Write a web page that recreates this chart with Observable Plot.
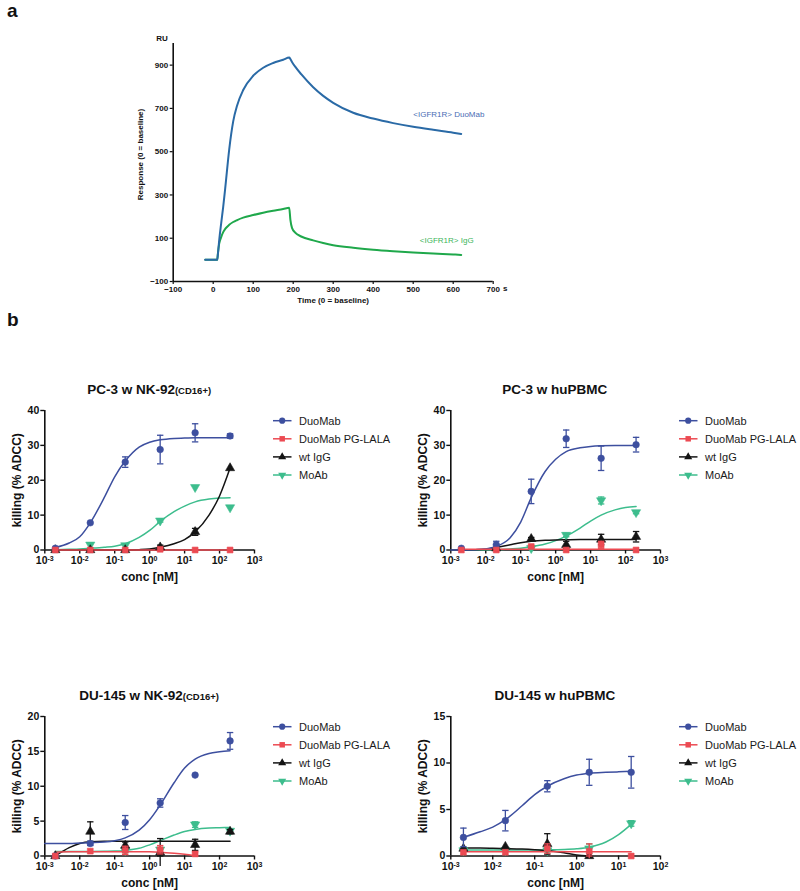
<!DOCTYPE html>
<html>
<head>
<meta charset="utf-8">
<script src="https://cdn.jsdelivr.net/npm/d3@7"></script>
<script src="https://cdn.jsdelivr.net/npm/@observablehq/plot@0.6"></script>
<style>
  body { margin: 0; background: #fff; }
  #root { position: relative; width: 800px; height: 891px; overflow: hidden; font-family: "Liberation Sans", Arial, Helvetica, sans-serif; color: #111; }
</style>
</head>
<body>
<div id="root"></div>
<script>
// ---------------- DATA ----------------
// Panel a: SPR sensorgram
const sprTime = [-20, 0, 10, 12, 15, 20, 25, 30, 40, 50, 60, 75, 100, 125, 150, 175, 190, 193, 197, 205, 220, 250, 275, 300, 350, 400, 450, 500, 550, 600, 620];
const sprDuoMab = [0, 0, 0, 30, 90, 170, 245, 330, 510, 640, 715, 785, 851, 888, 910, 925, 935, 928, 915, 893, 858, 798, 758, 726, 680, 653, 632, 615, 601, 588, 582];
const sprIgG = [0, 0, 0, 35, 75, 105, 128, 143, 162, 175, 184, 195, 207, 218, 227, 235, 241, 185, 148, 126, 108, 90, 78, 68, 56, 47, 40, 34, 29, 25, 23];
const sprXTicks = [-100, 0, 100, 200, 300, 400, 500, 600, 700];
const sprYTicks = [-100, 100, 300, 500, 700, 900];
const sprLabels = ["<IGFR1R> DuoMab", "<IGFR1R> IgG"];
const sprLabelX = [678, 651];
const sprLabelY = [671, 89];

// Panel b: ADCC
const seriesNames = ["DuoMab", "DuoMab PG-LALA", "wt IgG", "MoAb"];
const conc6 = [0.002, 0.02, 0.2, 2, 20, 200];
const conc5 = [0.002, 0.02, 0.2, 2, 20];
const fitConc = [0.001, 0.002, 0.005, 0.01, 0.02, 0.05, 0.1, 0.2, 0.5, 1, 2, 5, 10, 20, 50, 100, 200];
const decades6 = [1e-3, 1e-2, 1e-1, 1e0, 1e1, 1e2, 1e3];
const decades5 = [1e-3, 1e-2, 1e-1, 1e0, 1e1, 1e2];
const yTicks40 = [0, 10, 20, 30, 40];
const yTicks20 = [0, 5, 10, 15, 20];
const yTicks15 = [0, 5, 10, 15];
const titles = ["PC-3 w NK-92", "PC-3 w huPBMC", "DU-145 w NK-92", "DU-145 w huPBMC"];
const subtitles = ["(CD16+)", "", "(CD16+)", ""];

// PC-3 w NK-92(CD16+)
const p1Duo = [0.5, 7.8, 25.2, 28.8, 33.6, 32.7], p1DuoErr = [0, 0, 1.5, 4.1, 2.6, 0.6];
const p1Lala = [0, 0, 0, 0.2, 0, 0], p1LalaErr = [0, 0, 0, 0, 0, 0];
const p1Wt = [0, 0, 0, 0.8, 5.2, 23.5], p1WtErr = [0, 0, 0, 0.6, 1.0, 0];
const p1Mo = [null, 1.5, 1.3, 8.4, 18, 12.2], p1MoErr = [0, 0, 0, 0.4, 0, 0];
const p1FitDuo = [null, 0.7, 2, 3.8, 7.8, 15, 21, 25.5, 29.5, 30.9, 31.6, 32, 32.1, 32.2, 32.2, 32.2, 32.2];
const p1FitLala = [null, 0, 0, 0, 0, 0, 0, 0, 0, 0, 0, 0, 0, 0, 0, 0, 0];
const p1FitWt = [null, 0, 0, 0, 0, 0, 0, 0, 0.1, 0.3, 0.8, 1.8, 3, 5.2, 10, 15.5, 23.5];
const p1FitMo = [null, 0.1, 0.2, 0.3, 0.5, 0.8, 1.1, 1.8, 3.6, 5.6, 8.2, 11, 12.6, 13.8, 14.6, 14.9, 15];

// PC-3 w huPBMC
const p2Duo = [0.5, 1.5, 16.8, 31.9, 26.3, 30.2], p2DuoErr = [0, 1.0, 3.5, 2.5, 3.5, 2.1];
const p2Lala = [0, 0, 1.0, 0, 1.5, 0], p2LalaErr = [0, 0, 0.3, 0, 1.0, 0];
const p2Wt = [null, 0.5, 3.2, 1.5, 3.0, 3.8], p2WtErr = [0, 0, 0.4, 1.0, 1.5, 1.5];
const p2Mo = [null, null, 0.5, 4.3, 14.2, 10.8], p2MoErr = [0, 0, 0, 0.5, 1.0, 0.4];
const p2FitDuo = [0, 0, 0.1, 0.3, 1.0, 3.5, 8, 15, 22.5, 26, 28.2, 29.3, 29.7, 29.9, 30, 30, 30];
const p2FitLala = [null, 0.2, 0.2, 0.2, 0.2, 0.2, 0.2, 0.2, 0.2, 0.2, 0.2, 0.2, 0.2, 0.2, 0.2, 0.2, 0.2];
const p2FitWt = [null, 0, 0.05, 0.2, 0.7, 1.5, 2.1, 2.5, 2.8, 2.9, 2.95, 3, 3, 3, 3, 3, 3];
const p2FitMo = [null, 0, 0, 0.05, 0.1, 0.3, 0.5, 0.9, 1.7, 2.7, 4, 6.3, 8.3, 10, 11.5, 12.2, 12.5];

// DU-145 w NK-92(CD16+)
const p3Duo = [0, 1.8, 4.8, 7.6, 11.6, 16.5], p3DuoErr = [0, 0.3, 1.0, 0.6, 0, 1.2];
const p3Lala = [0, 0.7, 0.8, 0.9, 0.3, null], p3LalaErr = [0, 0, 0.6, 0.6, 0.3, 0];
const p3Wt = [0, 3.5, 1.5, 0.5, 1.6, 3.5], p3WtErr = [0, 1.4, 0.5, 2.0, 0.8, 0.3];
const p3Mo = [null, null, 0.8, 0.9, 4.5, 3.6], p3MoErr = [0, 0, 0.3, 0, 0.4, 0];
const p3FitDuo = [1.8, 1.8, 1.8, 1.85, 1.9, 2.0, 2.2, 2.6, 3.7, 5.2, 7.3, 10.5, 12.6, 13.9, 14.7, 14.95, 15.1];
const p3FitLala = [null, 0.55, 0.6, 0.6, 0.6, 0.6, 0.6, 0.6, 0.6, 0.6, 0.55, 0.4, 0.25, 0.05, null, null, null];
const p3FitWt = [null, 0, 1.2, 1.8, 2.05, 2.1, 2.1, 2.1, 2.1, 2.1, 2.1, 2.1, 2.1, 2.1, 2.1, 2.1, 2.1];
const p3FitMo = [null, 0.65, 0.65, 0.65, 0.66, 0.68, 0.7, 0.8, 1.1, 1.6, 2.2, 3, 3.5, 3.8, 4, 4.05, 4.1];

// DU-145 w huPBMC
const p4Duo = [2.0, 3.8, 7.5, 9.0, 9.0], p4DuoErr = [1.0, 1.1, 0.6, 1.4, 1.7];
const p4Lala = [0.4, 0.4, 0.8, 0.5, 0], p4LalaErr = [0, 0, 0.5, 0.8, 0];
const p4Wt = [0.8, 1.0, 1.3, 0, null], p4WtErr = [0, 0, 1.1, 0, 0];
const p4Mo = [0.6, 0.6, 0.6, 0.8, 3.5], p4MoErr = [0, 0, 0, 0.5, 0.3];
const p4FitDuo = [null, 2.0, 2.6, 3.1, 3.9, 5.4, 6.6, 7.5, 8.3, 8.7, 8.9, 9.0, 9.05, 9.1, null, null, null];
const p4FitLala = [null, 0.45, 0.45, 0.45, 0.45, 0.45, 0.45, 0.45, 0.45, 0.45, 0.45, 0.45, 0.45, 0.45, null, null, null];
const p4FitWt = [null, 0.85, 0.85, 0.83, 0.8, 0.75, 0.68, 0.58, 0.35, 0.12, 0, null, null, null, null, null, null];
const p4FitMo = [null, 0.65, 0.65, 0.65, 0.65, 0.65, 0.65, 0.66, 0.7, 0.78, 0.95, 1.5, 2.3, 3.4, null, null, null];

// ---------------- STYLE ----------------
const FONT = '"Liberation Sans", Arial, Helvetica, sans-serif';
const COL = { duo: "#3d4f9f", lala: "#ec4a52", wt: "#141414", mo: "#3dbd8d" };
const SYM = {
  duo: { plot: "circle", d3: d3.symbolCircle, rot: 0, r: 3.3, size: 30 },
  lala: { plot: "square", d3: d3.symbolSquare, rot: 0, r: 3.3, size: 30 },
  wt: { plot: "triangle", d3: d3.symbolTriangle, rot: 0, r: 3.4, size: 28 },
  mo: { plot: "triangle", d3: d3.symbolTriangle, rot: 180, r: 3.4, size: 28 }
};
const legendKeys = ["duo", "lala", "wt", "mo"];
const drawOrder = ["mo", "wt", "duo", "lala"];
const capSymbol = { draw(ctx) { ctx.moveTo(-3.2, 0); ctx.lineTo(3.2, 0); } };

const root = document.getElementById("root");
function place(el, left, top) {
  el.style.position = "absolute";
  el.style.left = left + "px";
  el.style.top = top + "px";
  root.appendChild(el);
}
function addDiv(html, left, top, css) {
  const d = document.createElement("div");
  d.innerHTML = html;
  d.style.cssText = css;
  place(d, left, top);
  return d;
}

// ---------------- PANEL a ----------------
const sprRows = sprTime.map((t, i) => ({ t, v: sprDuoMab[i] }));
const sprRowsIgG = sprTime.map((t, i) => ({ t, v: sprIgG[i] }));
const sprLabelRows = sprLabels.map((l, i) => ({ l, x: sprLabelX[i], y: sprLabelY[i], c: i === 0 ? "#4a6db4" : "#3cb55a" }));

const plotA = Plot.plot({
  width: 520, height: 315,
  marginLeft: 172.7, marginRight: 27.3, marginTop: 43, marginBottom: 34,
  x: { domain: [-100, 700] },
  y: { domain: [-100, 1000] },
  style: { fontFamily: FONT, fontSize: "8px", fontWeight: "bold", color: "#111", background: "transparent", overflow: "visible" },
  marks: [
    Plot.axisX({ ticks: sprXTicks, tickSize: 3, tickPadding: 2, label: null, strokeWidth: 1.2 }),
    Plot.axisY({ ticks: sprYTicks, tickSize: 3, tickPadding: 2, label: null, strokeWidth: 1.2 }),
    Plot.ruleX([-100], { strokeWidth: 1.6 }),
    Plot.ruleY([-100], { strokeWidth: 1.6 }),
    Plot.line(sprRowsIgG, { x: "t", y: "v", stroke: "#1fa84b", strokeWidth: 2, curve: "monotone-x" }),
    Plot.line(sprRows, { x: "t", y: "v", stroke: "#2a6aa6", strokeWidth: 2, curve: "monotone-x" }),
    Plot.text(sprLabelRows, { x: "x", y: "y", text: "l", fill: "c", textAnchor: "end", fontWeight: "normal", fontSize: 8 }),
    Plot.text(["s"], { x: 700, frameAnchor: "bottom", dy: 9, dx: 12, fontSize: 8 }),
    Plot.text(["Time (0 = baseline)"], { frameAnchor: "bottom", dy: 21, fontSize: 8, textAnchor: "middle" }),
    Plot.text(["RU"], { frameAnchor: "top-left", dx: -17, dy: -8, textAnchor: "start", fontSize: 8 }),
    Plot.text(["Response (0 = baseline)"], { frameAnchor: "left", dx: -33, dy: -8, rotate: -90, fontSize: 8, textAnchor: "middle" })
  ]
});
place(plotA, 0, 0);

addDiv("a", 7, 0, "font: bold 19px " + FONT + "; line-height: 22px;");
addDiv("b", 7, 309, "font: bold 19px " + FONT + "; line-height: 22px;");

// ---------------- PANEL b ----------------
function rows(conc, vals, errs) {
  return conc.map((c, i) => ({ c, v: vals[i], e: errs[i] })).filter(d => d.v != null);
}
function fitRows(vals) {
  return fitConc.map((c, i) => ({ c, v: vals[i] })).filter(d => d.v != null);
}

const panelsB = [
  { left: 0, top: 380, xMax: 1e3, ticks: decades6, yMax: 40, yTicks: yTicks40, conc: conc6,
    pts: { duo: [p1Duo, p1DuoErr], lala: [p1Lala, p1LalaErr], wt: [p1Wt, p1WtErr], mo: [p1Mo, p1MoErr] },
    fit: { duo: p1FitDuo, lala: p1FitLala, wt: p1FitWt, mo: p1FitMo } },
  { left: 405.7, top: 380, xMax: 1e3, ticks: decades6, yMax: 40, yTicks: yTicks40, conc: conc6,
    pts: { duo: [p2Duo, p2DuoErr], lala: [p2Lala, p2LalaErr], wt: [p2Wt, p2WtErr], mo: [p2Mo, p2MoErr] },
    fit: { duo: p2FitDuo, lala: p2FitLala, wt: p2FitWt, mo: p2FitMo } },
  { left: 0, top: 685.7, xMax: 1e3, ticks: decades6, yMax: 20, yTicks: yTicks20, conc: conc6,
    pts: { duo: [p3Duo, p3DuoErr], lala: [p3Lala, p3LalaErr], wt: [p3Wt, p3WtErr], mo: [p3Mo, p3MoErr] },
    fit: { duo: p3FitDuo, lala: p3FitLala, wt: p3FitWt, mo: p3FitMo } },
  { left: 405.7, top: 685.7, xMax: 1e2, ticks: decades5, yMax: 15, yTicks: yTicks15, conc: conc5,
    pts: { duo: [p4Duo, p4DuoErr], lala: [p4Lala, p4LalaErr], wt: [p4Wt, p4WtErr], mo: [p4Mo, p4MoErr] },
    fit: { duo: p4FitDuo, lala: p4FitLala, wt: p4FitWt, mo: p4FitMo } }
];

const ML = 44.3, MR = 16, MT = 30, FH = 139.5, W = 270, H = 212;

panelsB.forEach((p, pi) => {
  const marks = [
    Plot.axisX({ ticks: p.ticks, tickFormat: d => "10^" + Math.round(Math.log10(d)), tickSize: 4, tickPadding: 3, label: null, strokeWidth: 1.4 }),
    Plot.axisY({ ticks: p.yTicks, tickSize: 4, tickPadding: 1.5, label: null, strokeWidth: 1.4 }),
    Plot.ruleX([1e-3], { strokeWidth: 1.6 }),
    Plot.ruleY([0], { strokeWidth: 1.6 })
  ];
  drawOrder.forEach(k => {
    marks.push(Plot.line(fitRows(p.fit[k]), { x: "c", y: "v", stroke: COL[k], strokeWidth: 1.5, curve: "monotone-x" }));
  });
  drawOrder.forEach(k => {
    const r = rows(p.conc, p.pts[k][0], p.pts[k][1]);
    const re = r.filter(d => d.e > 0);
    marks.push(Plot.ruleX(re, { x: "c", y1: d => d.v - d.e, y2: d => d.v + d.e, stroke: COL[k], strokeWidth: 1.3 }));
    marks.push(Plot.dot(re, { x: "c", y: d => d.v + d.e, symbol: capSymbol, stroke: COL[k], strokeWidth: 1.3, fill: "none", r: 3 }));
    marks.push(Plot.dot(re, { x: "c", y: d => Math.max(0, d.v - d.e), symbol: capSymbol, stroke: COL[k], strokeWidth: 1.3, fill: "none", r: 3 }));
    marks.push(Plot.dot(r, { x: "c", y: "v", symbol: SYM[k].plot, rotate: SYM[k].rot, r: SYM[k].r, fill: COL[k], stroke: COL[k], strokeWidth: 0.6 }));
  });
  marks.push(Plot.text(["conc [nM]"], { frameAnchor: "bottom", dy: 31, fontSize: 12, textAnchor: "middle" }));
  marks.push(Plot.text(["killing (% ADCC)"], { frameAnchor: "left", dx: -27.5, rotate: -90, fontSize: 12, textAnchor: "middle" }));

  const svg = Plot.plot({
    width: W, height: H,
    marginLeft: ML, marginRight: MR, marginTop: MT, marginBottom: H - MT - FH,
    x: { type: "log", domain: [1e-3, p.xMax] },
    y: { domain: [0, p.yMax] },
    style: { fontFamily: FONT, fontSize: "10.5px", fontWeight: "bold", color: "#111", background: "transparent", overflow: "visible" },
    marks
  });
  // superscript exponents on log tick labels
  d3.select(svg).selectAll('g[aria-label="x-axis tick label"] text').each(function () {
    const t = d3.select(this);
    const m = t.text().match(/^10\^(-?\d+)$/);
    if (!m) return;
    t.text("10");
    t.append("tspan").attr("dy", "-0.45em").attr("font-size", "7px").text(m[1]);
  });
  place(svg, p.left, p.top);

  // title
  const sub = subtitles[pi] ? '<span style="font-size:9.5px">' + subtitles[pi] + '</span>' : "";
  addDiv(titles[pi] + sub, p.left + ML - 20, p.top + 1,
    "width:" + (W - ML - MR + 40) + "px; text-align:center; font: bold 13.5px " + FONT + "; line-height:18px; color:#111;");

  // legend
  const lg = d3.create("svg").attr("width", 132).attr("height", 80).style("overflow", "visible");
  legendKeys.forEach((k, i) => {
    const g = lg.append("g").attr("transform", `translate(0,${10.7 + i * 18.1})`);
    g.append("line").attr("x1", 5).attr("x2", 23.5).attr("stroke", COL[k]).attr("stroke-width", 1.5);
    g.append("path").attr("d", d3.symbol(SYM[k].d3, SYM[k].size)())
      .attr("transform", `translate(14.2,0) rotate(${SYM[k].rot})`).attr("fill", COL[k]);
    g.append("text").attr("x", 31).attr("dy", "0.36em").attr("font-family", FONT).attr("font-size", 11)
      .attr("fill", "#1a1a1a").text(seriesNames[i]);
  });
  place(lg.node(), p.left + 268.3, p.top + MT);
});
</script>
</body>
</html>
